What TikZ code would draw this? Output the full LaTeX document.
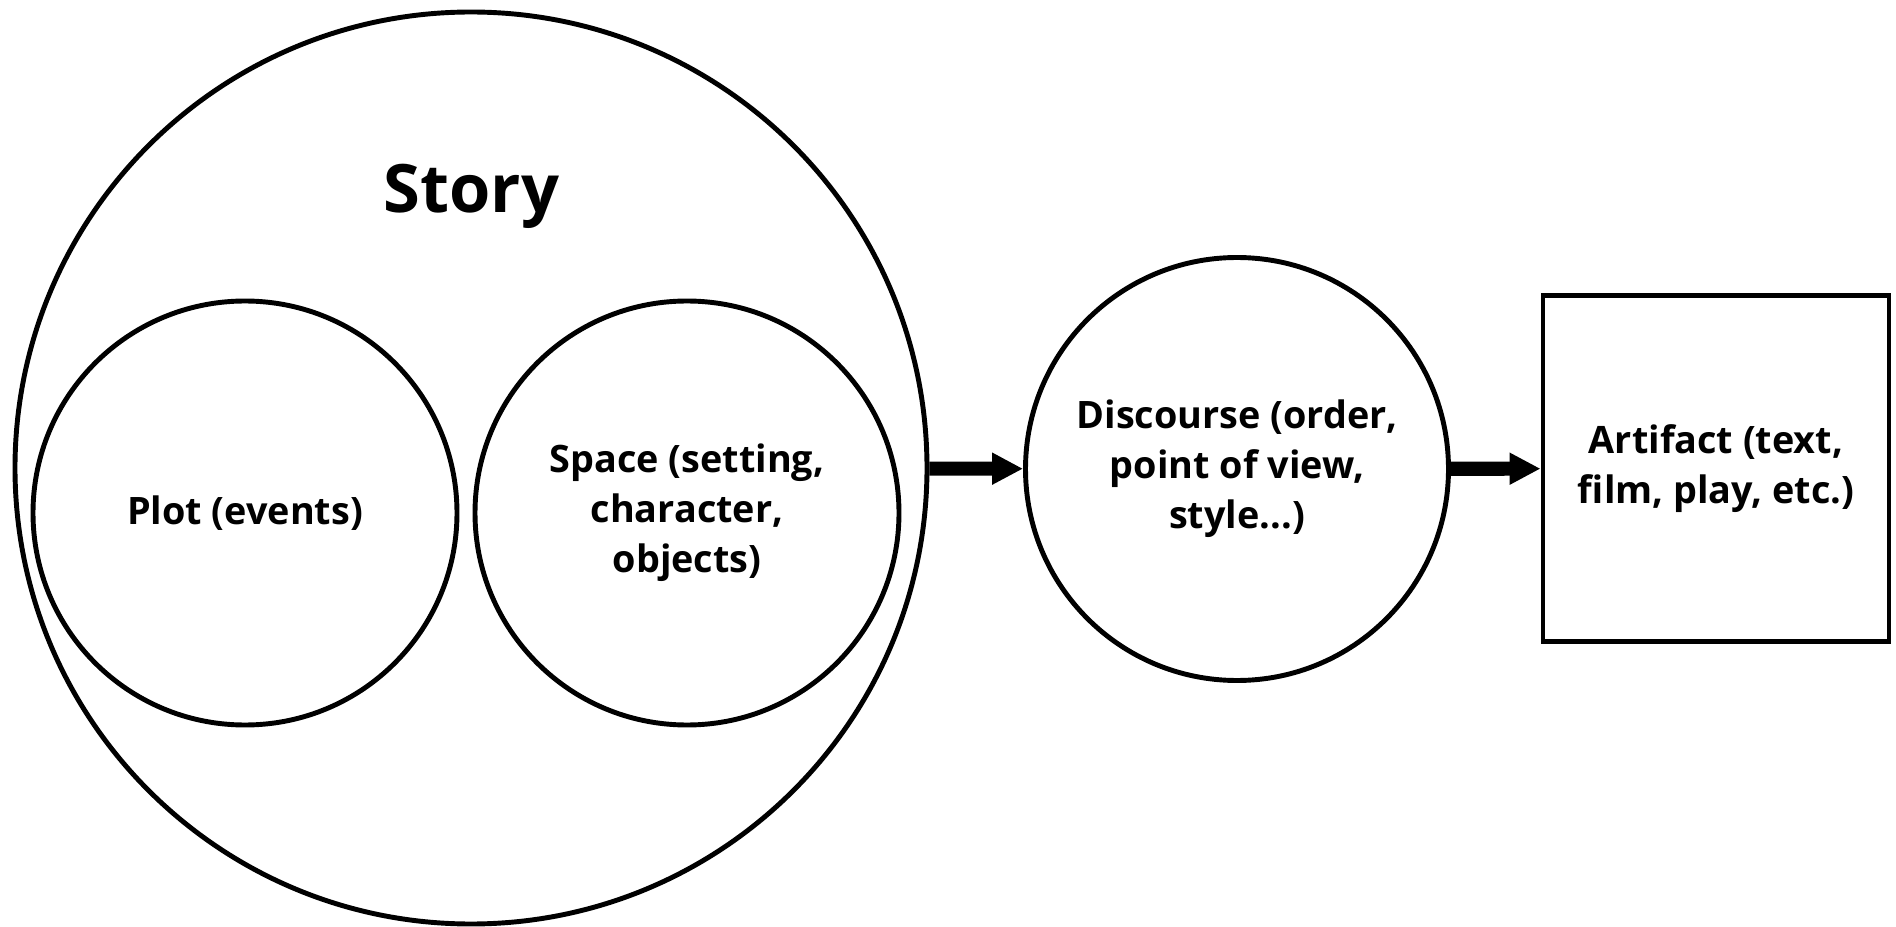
\documentclass[tikz,border=0pt]{standalone}
\usepackage{fontspec}
\setmainfont{Open Sans}
\usetikzlibrary{arrows.meta}
\begin{document}
\begin{tikzpicture}[
        part/.style={circle, draw=black, line width=2.8pt, align=center, inner sep=0pt},
        artbox/.style={rectangle, draw=black, line width=2.8pt, align=center, inner sep=0pt, minimum size=6.92cm},
        flow/.style={line width=8pt, -{Triangle[length=0.62cm, width=0.6cm]}},
        font=\bfseries\fontsize{21.5}{28.5}\selectfont
    ]
        \useasboundingbox (0, 0) rectangle (37.92, 18.52);
        \node[part, minimum size=18.24cm] (story) at (9.42, 9.16) {};
        \node[font=\bfseries\fontsize{38}{44}\selectfont] (storylabel) at (9.43, 14.6) {Story};
        \node[part, minimum size=8.48cm] (plot) at (4.9, 8.26) {Plot (events)};
        \node[part, minimum size=8.48cm] (space) at (13.74, 8.26) {Space (setting,\\character,\\objects)};
        \node[part, minimum size=8.46cm] (discourse) at (24.74, 9.14) {Discourse (order,\\point of view,\\style...)};
        \node[artbox] (artifact) at (34.32, 9.15) {Artifact (text,\\film, play, etc.)};
        \draw[flow] (story) -- (discourse);
        \draw[flow] (discourse) -- (artifact);
    \end{tikzpicture}
\end{document}
